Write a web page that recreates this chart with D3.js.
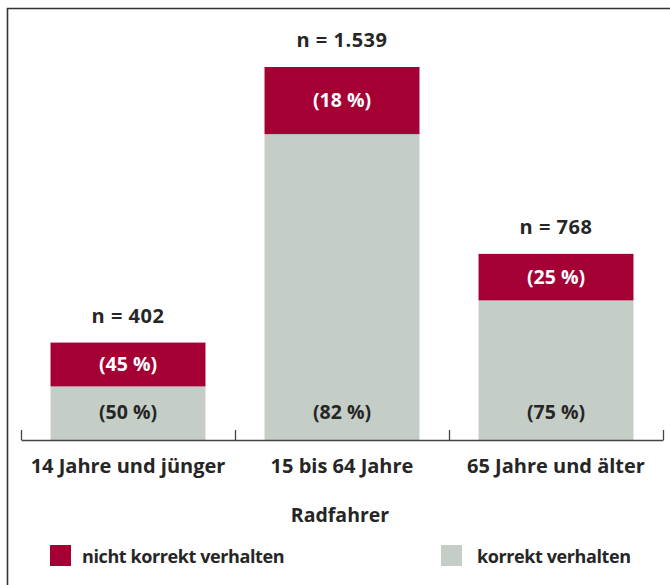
<!DOCTYPE html>
<html>
<head>
<meta charset="utf-8">
<script src="https://cdn.jsdelivr.net/npm/d3@7"></script>
<style>
  body { margin: 0; background: #fff; }
  svg { display: block; font-family: "Open Sans", "Noto Sans", sans-serif; }
</style>
</head>
<body>
<svg id="chart" width="670" height="585"></svg>
<script>
"use strict";

const categories = ["14 Jahre und jünger", "15 bis 64 Jahre", "65 Jahre und älter"];
const totals = [402, 1539, 768];
const pctIncorrect = [45, 18, 25];
const pctCorrect = [50, 82, 75];
const seriesNames = ["nicht korrekt verhalten", "korrekt verhalten"];
const axisTitle = "Radfahrer";

const red = "#a50034";
const grey = "#c4cec7";
const ink = "#262626";

const svg = d3.select("#chart");

// outer frame
svg.append("path")
    .attr("d", "M7.5,590 V8.5 H680")
    .attr("fill", "none")
    .attr("stroke", "#333")
    .attr("stroke-width", 1.6);

const base = 440;

const xScale = d3.scaleBand()
    .domain(categories)
    .range([21, 663])
    .paddingInner(0.276)
    .paddingOuter(0.138);

const xOuter = d3.scaleBand().domain(categories).range([21, 663]).padding(0);

const yScale = d3.scaleLinear().domain([0, d3.max(totals)]).range([base, 67]);

const data = categories.map((c, i) => ({
    cat: c,
    n: totals[i],
    bad: pctIncorrect[i],
    good: pctCorrect[i],
    split: totals[i] * (1 - pctIncorrect[i] / 100)
}));

const groups = svg.selectAll(".bar").data(data).enter().append("g").attr("class", "bar");

groups.append("rect")
    .attr("x", (d) => xScale(d.cat))
    .attr("width", xScale.bandwidth())
    .attr("y", (d) => yScale(d.split))
    .attr("height", (d) => base - yScale(d.split))
    .attr("fill", grey);

groups.append("rect")
    .attr("x", (d) => xScale(d.cat))
    .attr("width", xScale.bandwidth())
    .attr("y", (d) => yScale(d.n))
    .attr("height", (d) => yScale(d.split) - yScale(d.n))
    .attr("fill", red);

const cx = (d) => xScale(d.cat) + xScale.bandwidth() / 2;

groups.append("text")
    .attr("x", cx)
    .attr("y", (d) => yScale(d.n) - 20)
    .attr("text-anchor", "middle")
    .attr("font-size", 20)
    .attr("font-weight", 700)
    .attr("letter-spacing", 0.5)
    .attr("fill", ink)
    .text((d) => "n = " + d3.format(",")(d.n).replace(/,/g, "."));

groups.append("text")
    .attr("x", cx)
    .attr("y", (d) => (yScale(d.n) + yScale(d.split)) / 2)
    .attr("dy", "0.35em")
    .attr("text-anchor", "middle")
    .attr("font-size", 19.5)
    .attr("font-weight", 700)
    .attr("fill", "#fff")
    .text((d) => `(${d.bad} %)`);

groups.append("text")
    .attr("x", cx)
    .attr("y", base - 28)
    .attr("dy", "0.35em")
    .attr("text-anchor", "middle")
    .attr("font-size", 19.5)
    .attr("font-weight", 700)
    .attr("fill", ink)
    .text((d) => `(${d.good} %)`);

// axis with ticks at category boundaries
const bounds = categories.map((c) => xOuter(c)).concat([xOuter.range()[1]]);
const axisScale = d3.scaleLinear().domain([21, 663]).range([21, 663]);
const axis = svg.append("g")
    .attr("transform", `translate(0, ${base})`)
    .call(d3.axisTop(axisScale).tickValues(bounds).tickSize(10).tickFormat("").tickSizeOuter(0));
axis.selectAll("path, line").attr("stroke", "#444").attr("stroke-width", 1.3);

svg.selectAll(".cat")
    .data(categories)
    .enter()
    .append("text")
    .attr("class", "cat")
    .attr("x", (c) => xScale(c) + xScale.bandwidth() / 2)
    .attr("y", 473)
    .attr("text-anchor", "middle")
    .attr("font-size", 20)
    .attr("font-weight", 700)
    .attr("fill", ink)
    .text((c) => c);

svg.append("text")
    .attr("x", 340)
    .attr("y", 522)
    .attr("text-anchor", "middle")
    .attr("font-size", 19.5)
    .attr("font-weight", 700)
    .attr("fill", ink)
    .text(axisTitle);

// legend
const legendX = [50, 441];
const legend = svg.selectAll(".legend")
    .data(seriesNames)
    .enter()
    .append("g")
    .attr("class", "legend")
    .attr("transform", (d, i) => `translate(${legendX[i]}, 545)`);

legend.append("rect")
    .attr("width", 21)
    .attr("height", 21)
    .attr("fill", (d, i) => (i === 0 ? red : grey));

legend.append("text")
    .attr("x", (d, i) => (i === 0 ? 32 : 36))
    .attr("y", 18)
    .attr("font-size", 18)
    .attr("font-weight", 700)
    .attr("letter-spacing", -0.4)
    .attr("fill", ink)
    .text((d) => d);
</script>
</body>
</html>
